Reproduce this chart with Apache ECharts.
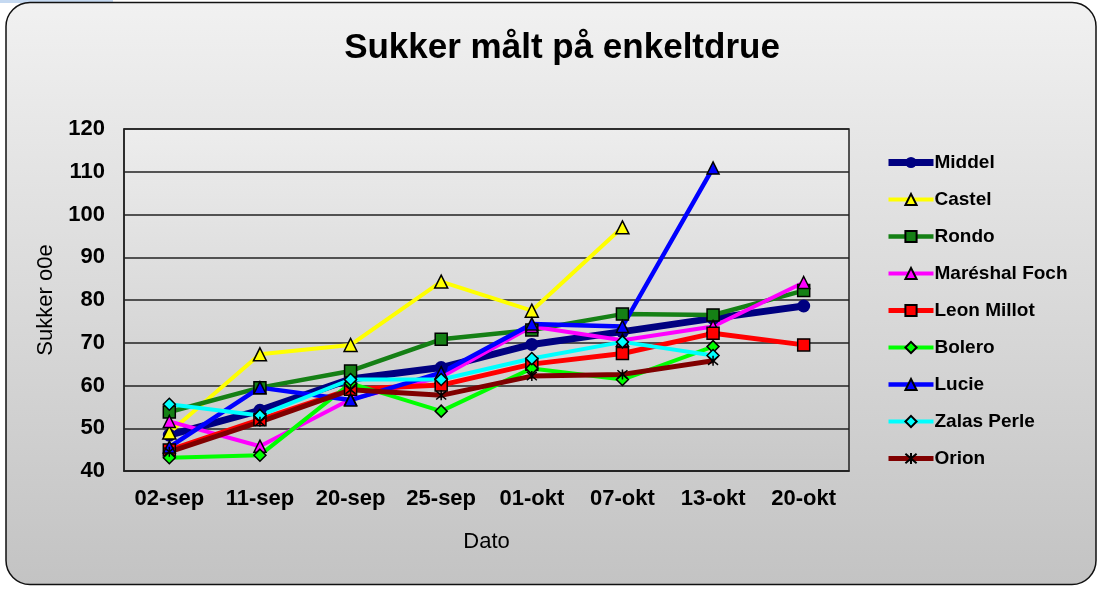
<!DOCTYPE html>
<html>
<head>
<meta charset="utf-8">
<script src="https://cdn.jsdelivr.net/npm/echarts@6/dist/echarts.min.js"></script>
<style>
  html, body { margin: 0; padding: 0; background: #fff; }
  #chart { width: 1103px; height: 590px; }
</style>
</head>
<body>
<div id="chart"></div>
<script>
// datoer for maalingene
var dates = ['02-sep', '11-sep', '20-sep', '25-sep', '01-okt', '07-okt', '13-okt', '20-okt'];

var middel      = [48.4, 54.2, 61.5, 64.2, 69.6, 72.6, 75.7, 78.6];
var castel      = [49.0, 67.3, 69.5, 84.3, 77.5, 97.0, null, null];
var rondo       = [53.8, 59.5, 63.4, 70.8, 73.0, 76.7, 76.5, 82.2];
var foch        = [51.6, 45.8, 56.8, 62.0, 73.8, 70.6, 73.8, 84.1];
var leonMillot  = [44.9, 52.0, 59.1, 60.1, 65.0, 67.5, 72.2, 69.5];
var bolero      = [43.1, 43.7, 60.5, 54.0, 64.0, 61.4, 69.1, null];
var lucie       = [45.6, 59.5, 56.6, 63.0, 74.4, 73.8, 110.9, null];
var zalasPerle  = [55.6, 53.0, 61.4, 61.4, 66.3, 70.2, 67.0, null];
var orion       = [44.5, 51.5, 59.0, 57.7, 62.2, 62.6, 65.8, null];

var yTicks = [40, 50, 60, 70, 80, 90, 100, 110, 120];

var font = '"Liberation Sans", Arial, sans-serif';
var asterisk = 'path://M0,0L10,10M10,0L0,10M5,-1L5,11';

function mkSeries(name, data, color, width, symbol, size) {
  return {
    name: name,
    type: 'line',
    data: data,
    symbol: symbol,
    symbolSize: size,
    connectNulls: false,
    lineStyle: { color: color, width: width },
    itemStyle: {
      color: symbol === asterisk ? '#000' : color,
      borderColor: '#000',
      borderWidth: symbol === 'circle' && color === '#000080' ? 0 : 1.5
    },
    emphasis: { disabled: true }
  };
}

var chart = echarts.init(document.getElementById('chart'));
chart.setOption({
  backgroundColor: '#fff',
  animation: false,
  graphic: [
    {
      type: 'rect', z: -10,
      shape: { x: 0, y: 0, width: 113, height: 3 },
      style: { fill: '#c5d9f1' }
    },
    {
      type: 'rect', z: -10,
      shape: { x: 6, y: 2.5, width: 1090, height: 582, r: 24 },
      style: {
        fill: new echarts.graphic.LinearGradient(0, 0, 0, 1, [
          { offset: 0, color: '#f1f1f1' },
          { offset: 1, color: '#c3c3c3' }
        ]),
        stroke: '#111',
        lineWidth: 1.5
      }
    }
  ],
  title: {
    text: 'Sukker målt på enkeltdrue',
    left: 557, top: 26, textAlign: 'center',
    textStyle: { fontFamily: font, fontWeight: 'bold', fontSize: 35, color: '#000' }
  },
  legend: {
    orient: 'vertical',
    left: 880, top: 148,
    itemWidth: 45, itemHeight: 14, itemGap: 18,
    lineStyle: { width: 'inherit' },
    textStyle: { fontFamily: font, fontWeight: 'bold', fontSize: 19, lineHeight: 17, color: '#000', padding: [0, 0, 0, -4] },
    data: ['Middel', 'Castel', 'Rondo', 'Maréshal Foch', 'Leon Millot', 'Bolero', 'Lucie', 'Zalas Perle', 'Orion']
  },
  grid: {
    left: 124, top: 129, width: 725, height: 342,
    show: true,
    backgroundColor: new echarts.graphic.LinearGradient(0, 0, 0, 1, [
      { offset: 0, color: '#ededed' },
      { offset: 1, color: '#c8c8c8' }
    ]),
    borderColor: '#222', borderWidth: 1.5
  },
  xAxis: {
    type: 'category',
    data: dates,
    boundaryGap: true,
    name: 'Dato',
    nameLocation: 'middle',
    nameGap: 60,
    nameTextStyle: { fontFamily: font, fontSize: 22, color: '#000' },
    axisLine: { show: true, lineStyle: { color: '#222', width: 1.5 } },
    axisTick: { show: false },
    axisLabel: { fontFamily: font, fontWeight: 'bold', fontSize: 22, color: '#000', margin: 17 }
  },
  yAxis: {
    type: 'value',
    min: yTicks[0], max: yTicks[yTicks.length - 1], interval: 10,
    name: 'Sukker o0e',
    nameLocation: 'middle',
    nameGap: 58,
    nameRotate: 90,
    nameTextStyle: { fontFamily: font, fontSize: 22, color: '#000' },
    axisLine: { show: true, lineStyle: { color: '#222', width: 1.5 } },
    axisTick: { show: false },
    axisLabel: { fontFamily: font, fontWeight: 'bold', fontSize: 22, color: '#000', margin: 19 },
    splitLine: { show: true, lineStyle: { color: '#222', width: 1.5 } }
  },
  series: [
    mkSeries('Middel', middel, '#000080', 7, 'circle', 13),
    mkSeries('Castel', castel, '#ffff00', 4, 'triangle', 13),
    mkSeries('Rondo', rondo, '#158015', 4.5, 'rect', 12),
    mkSeries('Maréshal Foch', foch, '#ff00ff', 4, 'triangle', 12),
    mkSeries('Leon Millot', leonMillot, '#ff0000', 5, 'rect', 12),
    mkSeries('Bolero', bolero, '#00ff00', 4, 'diamond', 12),
    mkSeries('Lucie', lucie, '#0000ff', 4.5, 'triangle', 12),
    mkSeries('Zalas Perle', zalasPerle, '#00ffff', 4, 'diamond', 12),
    mkSeries('Orion', orion, '#800000', 5, asterisk, 10)
  ]
});
</script>
</body>
</html>
